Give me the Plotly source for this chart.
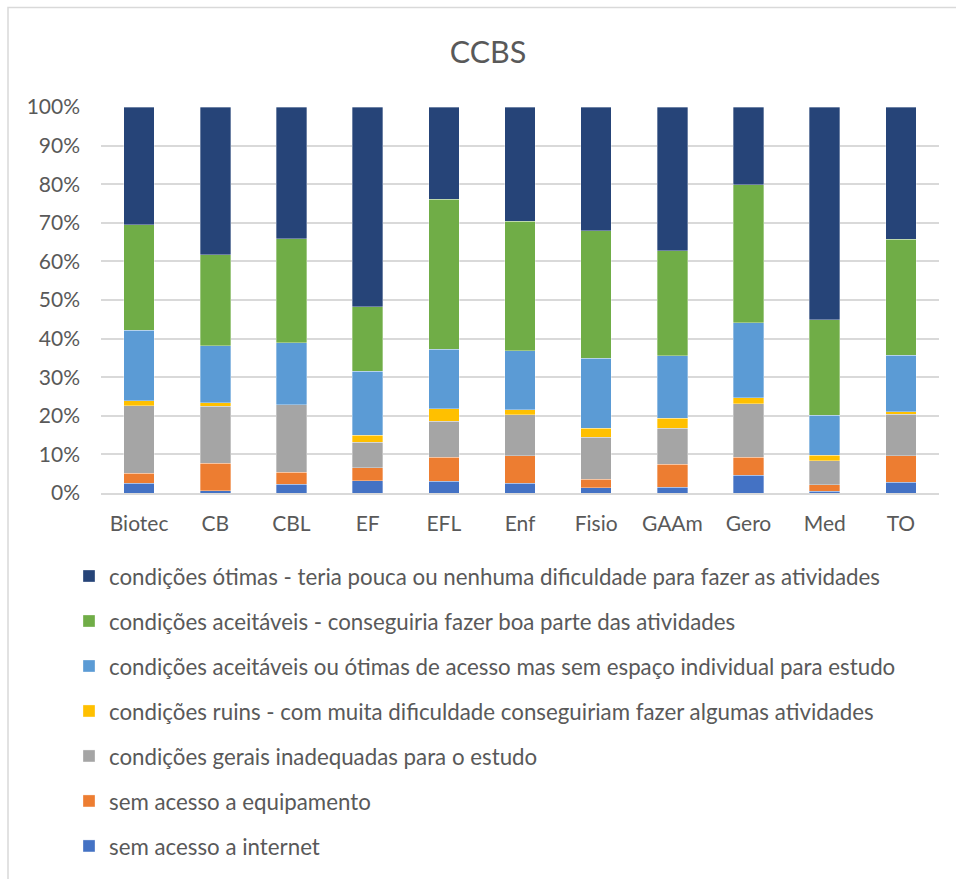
import plotly.graph_objects as go

# Courses (x categories)
courses = ["Biotec", "CB", "CBL", "EF", "EFL", "Enf", "Fisio", "GAAm", "Gero", "Med", "TO"]

# Share of students (%) in each condition, per course
sem_internet = [2.5, 0.6, 2.3, 3.2, 3.0, 2.5, 1.4, 1.5, 4.6, 0.5, 2.8]
sem_equipamento = [2.6, 7.1, 3.1, 3.3, 6.3, 7.2, 2.2, 6.0, 4.6, 1.6, 6.9]
gerais_inadequadas = [17.5, 14.8, 17.5, 6.6, 9.3, 10.6, 10.8, 9.3, 13.9, 6.2, 10.7]
ruins = [1.3, 0.9, 0.0, 1.8, 3.2, 1.3, 2.4, 2.6, 1.6, 1.5, 0.6]
sem_espaco = [18.2, 14.7, 16.0, 16.7, 15.5, 15.2, 18.1, 16.1, 19.4, 10.4, 14.7]
aceitaveis = [27.4, 23.6, 27.0, 16.7, 38.8, 33.6, 33.0, 27.2, 35.8, 24.7, 30.0]
otimas = [30.5, 38.3, 34.1, 51.7, 23.9, 29.6, 32.1, 37.3, 20.1, 55.1, 34.3]

# Stack order (bottom to top)
series = [
    ("sem acesso a internet", sem_internet, "#4472C4"),
    ("sem acesso a equipamento", sem_equipamento, "#ED7D31"),
    ("condições gerais inadequadas para o estudo", gerais_inadequadas, "#A5A5A5"),
    ("condições ruins - com muita dificuldade conseguiriam fazer algumas atividades", ruins, "#FFC000"),
    ("condições aceitáveis ou ótimas de acesso mas sem espaço individual para estudo", sem_espaco, "#5B9BD5"),
    ("condições aceitáveis - conseguiria fazer boa parte das atividades", aceitaveis, "#70AD47"),
    ("condições ótimas - teria pouca ou nenhuma dificuldade para fazer as atividades", otimas, "#264478"),
]

FONT = "Lato"
TXT = "#595959"

fig = go.Figure()
for i, (name, vals, color) in enumerate(series):
    fig.add_trace(go.Bar(
        x=courses, y=vals, name=name, legendgroup=name,
        legendrank=100 - i,  # top segment listed first
        marker=dict(color=color, line=dict(color="rgba(255,255,255,0.55)", width=0.6)),
    ))

W, H = 956, 879
L, R, T, B = 101, 17, 107, 386
pw, ph = W - L - R, H - T - B

def px_x(p):
    return (p - L) / pw

def px_y(p):
    return (H - B - p) / ph

fig.update_layout(
    width=W, height=H,
    margin=dict(l=L, r=R, t=T, b=B, autoexpand=False),
    barmode="stack", bargap=0.6,
    plot_bgcolor="white", paper_bgcolor="white",
    font=dict(family=FONT, color=TXT, size=21),
    title=dict(text="CCBS", x=488 / W, xanchor="center", y=1 - 52 / H, yanchor="middle",
               font=dict(family=FONT, size=30.5, color=TXT)),
    xaxis=dict(showgrid=False, showline=True, linecolor="#D9D9D9", linewidth=1.5,
               ticks="", tickfont=dict(size=21, color=TXT), ticklabelstandoff=11),
    yaxis=dict(range=[0, 100], dtick=10, ticksuffix="%", showgrid=True,
               gridcolor="#D9D9D9", gridwidth=1.5, zeroline=False, showline=False,
               ticks="", tickfont=dict(size=21, color=TXT), ticklabelstandoff=20),
    legend=dict(traceorder="grouped", tracegroupgap=13,
                x=px_x(69), xanchor="left", y=px_y(555), yanchor="top",
                font=dict(size=22.3, color=TXT), bgcolor="rgba(0,0,0,0)"),
    shapes=[dict(type="rect", xref="paper", yref="paper",
                 x0=px_x(8), x1=px_x(W + 20), y0=px_y(H + 20), y1=px_y(7.5),
                 line=dict(color="#D9D9D9", width=1.5), fillcolor="rgba(0,0,0,0)", layer="below")],
)

fig.write_html("out.html")
